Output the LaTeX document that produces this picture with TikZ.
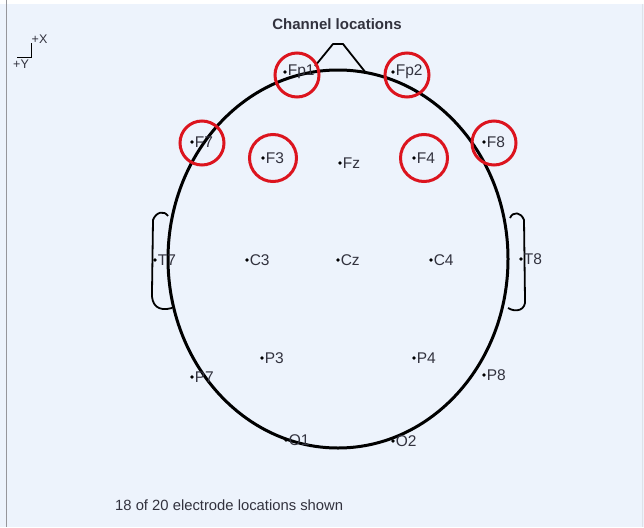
\documentclass[tikz,border=0pt]{standalone}
\usepackage{fontspec}
\setmainfont{Liberation Sans}
\definecolor{bgpanel}{RGB}{237,243,252}
\definecolor{labelgray}{RGB}{50,50,62}
\definecolor{ringred}{RGB}{220,20,30}
\definecolor{framegray}{RGB}{150,150,155}
\tikzset{
  headline/.style={line width=3pt, black},
  earline/.style={line width=1.8pt, black, line join=round},
  elec/.style={circle, fill=black, inner sep=0pt, minimum size=3.8pt},
  elabel/.style={anchor=west, inner sep=0pt, font=\fontsize{15.5}{15.5}\selectfont, text=labelgray},
  ring/.style={circle, draw=ringred, line width=3pt, inner sep=0pt},
  caption/.style={font=\fontsize{14.8}{14.8}\selectfont, text=labelgray, inner sep=0pt},
}
\begin{document}
\begin{tikzpicture}[x=1pt, y=-1pt]
  % panel and frame
  \useasboundingbox (0,0) rectangle (644,527);
  \fill[bgpanel] (0,0) rectangle (644,527);
  \fill[white] (0,0) rectangle (644,4);
  \draw[framegray, line width=1.5pt] (6.5,0) -- (6.5,527);
  \draw[bgpanel!85!gray, line width=0.8pt] (642.5,4) -- (642.5,527);

  % axis orientation marker
  \coordinate (axorigin) at (31,57);
  \coordinate (axleft) at (17,57);
  \coordinate (axup) at (31,43);
  \draw[black, line width=1pt] (axleft) -- (axorigin) -- (axup);
  \node[caption, font=\fontsize{12.5}{12.5}\selectfont, anchor=south west] (axX) at (31.5,44) {+X};
  \node[caption, font=\fontsize{12.5}{12.5}\selectfont, anchor=north west] (axY) at (13,60) {+Y};

  % title
  \node[font=\bfseries\fontsize{15}{15}\selectfont, text=labelgray] (title) at (337,24) {Channel locations};

  % nose
  \draw[earline] (315,66) -- (333,44) -- (343,44) -- (366,73);
  % ears
  \draw[earline] (168,216) .. controls (164,210) and (156,212) .. (153,220)
    -- (152,292) .. controls (151,305) and (158,312) .. (172,308);
  \draw[earline] (510,218) .. controls (513,211) and (521,212) .. (524,220)
    -- (525,300) .. controls (526,310) and (516,313) .. (508,308);
  % head outline
  \draw[headline] (338,259) ellipse [x radius=170, y radius=189];

  % electrodes
  \foreach \n/\x/\y in {Fp1/285/72, Fp2/393/72, F7/192/142, F3/263/158, Fz/340/163,
      F4/414/158, F8/484/142, T7/155/260, C3/247/260, Cz/338/260, C4/431/260,
      T8/521/259, P7/192/377, P3/262/358, P4/414/358, P8/484/375, O1/286/440, O2/393/441} {
    \node[elec] (e\n) at (\x,\y) {};
    \node[elabel] (l\n) at ([xshift=0.5pt]e\n.east) {\n};
  }

  % highlighted channels
  \node[ring, minimum size=44pt] (rFp1) at (297,75) {};
  \node[ring, minimum size=44pt] (rFp2) at (407,75) {};
  \node[ring, minimum size=44pt] (rF7) at (202,143) {};
  \node[ring, minimum size=47pt] (rF3) at (273,158) {};
  \node[ring, minimum size=47pt] (rF4) at (424,158) {};
  \node[ring, minimum size=44pt] (rF8) at (494,143) {};

  % footer
  \node[caption, anchor=west] (footer) at (115,505) {18 of 20 electrode locations shown};
\end{tikzpicture}
\end{document}
